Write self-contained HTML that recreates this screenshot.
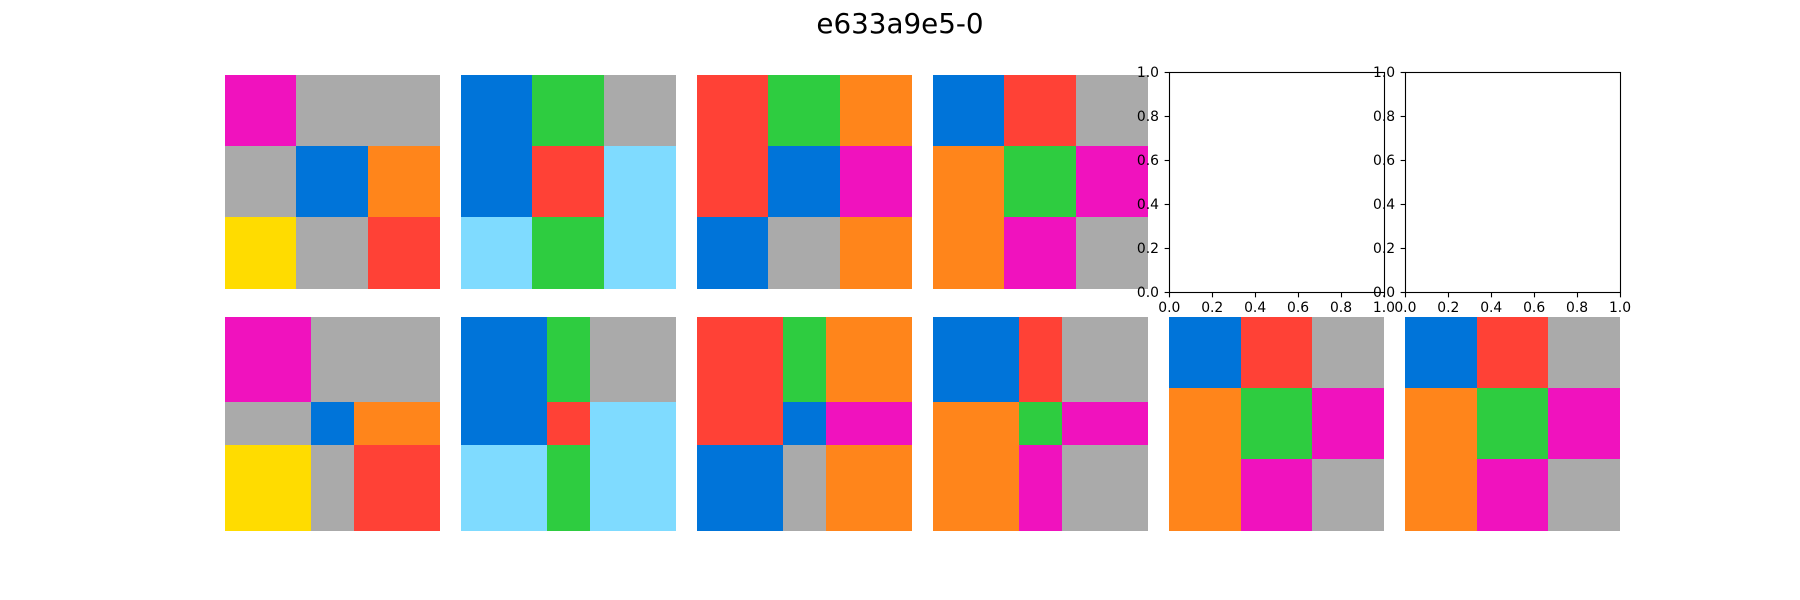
<!DOCTYPE html>
<html lang="en">
<head>
<meta charset="utf-8">
<title>e633a9e5-0</title>
<style>
html,body{margin:0;padding:0;background:#fff;}
svg{display:block;}
text{font-family:"DejaVu Sans","Liberation Sans",sans-serif;fill:#000;}
</style>
</head>
<body>
<svg id="figure" xmlns="http://www.w3.org/2000/svg" width="1800" height="600" viewBox="0 0 1800 600">
<rect x="0" y="0" width="1800" height="600" fill="#ffffff"/>
<text x="900" y="33" font-size="27.78" text-anchor="middle">e633a9e5-0</text>
</svg>
<script>
// Colour indices: 1 blue, 2 red, 3 green, 4 gray, 5 magenta, 6 orange, 7 sky, 9 yellow
const palette = {1:'#0074D9',2:'#FF4136',3:'#2ECC40',4:'#AAAAAA',5:'#F012BE',6:'#FF851B',7:'#7FDBFF',9:'#FFDC00'};
const gridA = [[5,4,4],[4,1,6],[9,4,2]];
const gridB = [[1,3,4],[1,2,7],[7,3,7]];
const gridC = [[2,3,6],[2,1,5],[1,4,6]];
const gridD = [[1,2,4],[6,3,5],[6,5,4]];
const topRowGrids = [gridA, gridB, gridC, gridD, null, null];
const bottomRowGrids = [gridA, gridB, gridC, gridD, gridD, gridD];
const evenWeights = [1,1,1];
const bottomWeights = [2,1,2];
const bottomRowWeights = [bottomWeights, bottomWeights, bottomWeights, bottomWeights, evenWeights, evenWeights];
const tickValues = [0, 0.2, 0.4, 0.6, 0.8, 1];
const tickLabels = ['0.0','0.2','0.4','0.6','0.8','1.0'];

const svg = document.getElementById('figure');
const NS = 'http://www.w3.org/2000/svg';
const figW = 1800, left = 0.125 * figW, right = 0.9 * figW;
const axW = (right - left) / (6 + 5 * 0.1), axGap = axW * 0.1;
const slotTop = 72, slotH = (534 - 72) / 2.1, slotGap = slotH * 0.1;
const axisStroke = 1.11;

function el(tag, parent, attrs) {
  const e = document.createElementNS(NS, tag);
  for (const k in attrs) e.setAttribute(k, attrs[k]);
  parent.appendChild(e);
  return e;
}
function columnLeft(c) { return left + c * (axW + axGap); }
function slotY(r) { return slotTop + r * (slotH + slotGap); }
function edges(weights) {
  const total = weights.reduce((a, b) => a + b, 0);
  let run = 0;
  const out = [0];
  weights.forEach(w => { run += w; out.push(run / total); });
  return out;
}
function snapX(v, i, n, r) {
  if (i === 0) return Math.round(v);
  if (i === n) return Math.ceil(v);
  return r === 0 ? Math.floor(v) : Math.round(v);
}
function snapY(v, i, n) {
  return i === 0 ? Math.ceil(v) : Math.floor(v);
}
function drawImagePanel(parent, grid, weights, c, r, name) {
  const g = el('g', parent, {});
  
  
  const x0 = columnLeft(c);
  const y0 = slotY(r) + (slotH - axW) / 2;
  const colEdges = edges(weights), rowEdges = edges(weights);
  const n = weights.length;
  grid.forEach((row, ri) => {
    row.forEach((value, ci) => {
      const xa = snapX(x0 + colEdges[ci] * axW, ci, n, r);
      const xb = snapX(x0 + colEdges[ci + 1] * axW, ci + 1, n, r);
      const ya = snapY(y0 + rowEdges[ri] * axW, ri, n);
      const yb = snapY(y0 + rowEdges[ri + 1] * axW, ri + 1, n);
      const cell = el('rect', g, {x: xa, y: ya, width: xb - xa, height: yb - ya, fill: palette[value], 'shape-rendering': 'crispEdges'});
      
      
    });
  });
}
function drawEmptyAxes(parent, c, r, name) {
  const g = el('g', parent, {});
  
  
  const x0 = columnLeft(c), x1 = x0 + axW, y0 = slotY(r), y1 = y0 + slotH;
  const px = v => Math.round(v) + 0.5;
  const sx = v => px(x0 + v * axW);
  const sy = v => px(y1 - v * slotH);
  const bg = el('rect', g, {x: x0, y: y0, width: axW, height: slotH, fill: '#ffffff'});
  
  
  tickValues.forEach((v, i) => {
    const xt = el('line', g, {x1: sx(v), x2: sx(v), y1: px(y1), y2: px(y1) + 4.86, stroke: '#000', 'stroke-width': axisStroke});
    
    
    const xl = el('text', g, {x: x0 + v * axW, y: 312, 'font-size': 13.89, 'text-anchor': 'middle'});
    xl.textContent = tickLabels[i];
    
    
    const yt = el('line', g, {x1: px(x0) - 4.86, x2: px(x0), y1: sy(v), y2: sy(v), stroke: '#000', 'stroke-width': axisStroke});
    
    
    const yl = el('text', g, {x: x0 - 10.3, y: y1 - v * slotH + 5.05, 'font-size': 13.89, 'text-anchor': 'end'});
    yl.textContent = tickLabels[i];
    
    
  });
  const frame = el('rect', g, {x: px(x0), y: px(y0), width: px(x1) - px(x0), height: px(y1) - px(y0), fill: 'none', stroke: '#000', 'stroke-width': axisStroke});
  
  
}

topRowGrids.forEach((grid, c) => {
  if (grid) drawImagePanel(svg, grid, evenWeights, c, 0, 'top-panel-' + (c + 1));
});
bottomRowGrids.forEach((grid, c) => {
  drawImagePanel(svg, grid, bottomRowWeights[c], c, 1, 'bottom-panel-' + (c + 1));
});
topRowGrids.forEach((grid, c) => {
  if (!grid) drawEmptyAxes(svg, c, 0, 'empty-axes-' + (c + 1));
});
</script>
</body>
</html>
